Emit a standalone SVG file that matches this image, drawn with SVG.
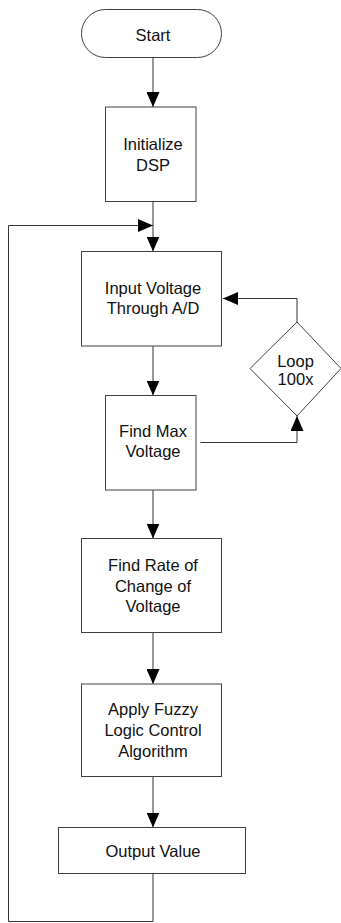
<svg xmlns="http://www.w3.org/2000/svg" width="341" height="923" viewBox="0 0 341 923">
<style>
.box{fill:#fff;stroke:#404040;stroke-width:1}
.lbl{font-family:"Liberation Sans",Arial,sans-serif;font-size:16.5px;fill:#111;text-anchor:middle}
.con{fill:none;stroke:#333;stroke-width:1}
</style>
<defs>
<marker id="arr" markerUnits="userSpaceOnUse" markerWidth="16" markerHeight="13" refX="15" refY="6.5" orient="auto">
<path d="M0,0 L15,6.5 L0,13 z" fill="#000"/>
</marker>
</defs>
<rect width="341" height="923" fill="#fff"/>
<g id="connectors">
<line class="con" x1="153" y1="57.5" x2="153" y2="107" marker-end="url(#arr)"/>
<line class="con" x1="153" y1="201.5" x2="153" y2="251.5" marker-end="url(#arr)"/>
<polyline class="con" points="153,873.5 153,921.5 8.5,921.5 8.5,225.5 153,225.5" marker-end="url(#arr)"/>
<line class="con" x1="153" y1="346" x2="153" y2="395.5" marker-end="url(#arr)"/>
<polyline class="con" points="200.5,442.5 297,442.5 297,416" marker-end="url(#arr)"/>
<polyline class="con" points="297,322 297,298.5 223,298.5" marker-end="url(#arr)"/>
<line class="con" x1="153" y1="490" x2="153" y2="538.5" marker-end="url(#arr)"/>
<line class="con" x1="153" y1="633" x2="153" y2="684" marker-end="url(#arr)"/>
<line class="con" x1="153" y1="777" x2="153" y2="827.5" marker-end="url(#arr)"/>
</g>
<g id="start">
<rect class="box" x="81.5" y="9.5" width="140" height="48" rx="24" ry="24"/>
<text class="lbl" x="153" y="40.7">Start</text>
</g>
<g id="init">
<rect class="box" x="105.5" y="107" width="90.5" height="94.5"/>
<text class="lbl" x="153" y="150">Initialize</text>
<text class="lbl" x="153" y="170.7">DSP</text>
</g>
<g id="input">
<rect class="box" x="81.5" y="251.5" width="140" height="94.5"/>
<text class="lbl" x="153" y="294">Input Voltage</text>
<text class="lbl" x="153" y="314">Through A/D</text>
</g>
<g id="findmax">
<rect class="box" x="105.5" y="395.5" width="90.5" height="94.5"/>
<text class="lbl" x="153" y="437.3">Find Max</text>
<text class="lbl" x="153" y="457.3">Voltage</text>
</g>
<g id="loop">
<polygon class="box" points="297,322 341,368.5 297,416 250,368.5"/>
<text class="lbl" x="295.5" y="366.7">Loop</text>
<text class="lbl" x="295.5" y="385">100x</text>
</g>
<g id="findrate">
<rect class="box" x="81.5" y="538.5" width="140" height="94"/>
<text class="lbl" x="153" y="570.7">Find Rate of</text>
<text class="lbl" x="153" y="591.5">Change of</text>
<text class="lbl" x="153" y="612.3">Voltage</text>
</g>
<g id="apply">
<rect class="box" x="81.5" y="684" width="140" height="92.5"/>
<text class="lbl" x="153" y="715">Apply Fuzzy</text>
<text class="lbl" x="153" y="735.7">Logic Control</text>
<text class="lbl" x="153" y="756.5">Algorithm</text>
</g>
<g id="output">
<rect class="box" x="58.5" y="827.5" width="187" height="46"/>
<text class="lbl" x="153" y="856.7">Output Value</text>
</g>
</svg>
